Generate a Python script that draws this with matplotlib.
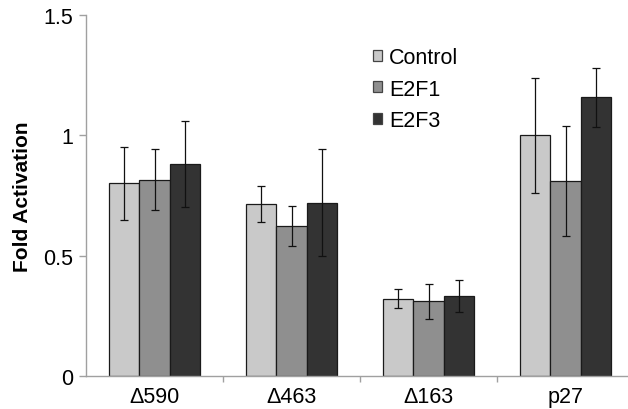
import numpy as np
import matplotlib
matplotlib.use('Agg')
import matplotlib.pyplot as plt

plt.rcParams['font.family'] = ['Liberation Sans', 'DejaVu Sans']

# data
groups = ['\u0394590', '\u0394463', '\u0394163', 'p27']
series = ['Control', 'E2F1', 'E2F3']
control = [0.80, 0.716, 0.321, 1.00]
e2f1 = [0.816, 0.622, 0.311, 0.81]
e2f3 = [0.882, 0.72, 0.331, 1.158]
control_err = [0.152, 0.075, 0.040, 0.238]
e2f1_err = [0.126, 0.083, 0.073, 0.23]
e2f3_err = [0.178, 0.223, 0.066, 0.122]
colors = ['#c9c9c9', '#8f8f8f', '#333333']

fig = plt.figure(figsize=(6.28, 4.10), dpi=100)
ax = fig.add_axes([86/628, 33/410, 542/628, 361/410])

x = np.arange(len(groups))
w = 0.22
vals = [control, e2f1, e2f3]
errs = [control_err, e2f1_err, e2f3_err]
for i in range(3):
    ax.bar(x + (i - 1) * w, vals[i], w, color=colors[i], edgecolor='#1a1a1a',
           linewidth=0.9, label=series[i],
           yerr=errs[i], error_kw=dict(ecolor='#111111', elinewidth=0.9,
                                       capsize=3, capthick=0.9))

ax.set_xlim(-0.5, -0.5 + 542/137)
ax.set_ylim(0, 1.5)
ax.set_yticks([0, 0.5, 1, 1.5])
ax.set_yticklabels(['0', '0.5', '1', '1.5'])
ax.set_xticks(x)
ax.set_xticklabels(groups)
ax.set_xticks(np.arange(0.5, len(groups) - 0.5, 1), minor=True)
ax.tick_params(axis='x', which='major', length=0, pad=7, labelsize=15.5)
ax.tick_params(axis='x', which='minor', length=4, color='#a0a0a0', width=1)
ax.tick_params(axis='y', length=5, pad=4, color='#a0a0a0', width=1, labelsize=15.5)

for s in ['top', 'right']:
    ax.spines[s].set_visible(False)
for s in ['left', 'bottom']:
    ax.spines[s].set_color('#a0a0a0')
    ax.spines[s].set_linewidth(1)

ax.set_ylabel('Fold Activation', fontsize=15, fontweight='bold', labelpad=8)

leg = ax.legend(loc='upper left', bbox_to_anchor=(362/628, 1 - 37/410),
                bbox_transform=fig.transFigure, frameon=False, fontsize=15.5,
                handlelength=0.42, handleheight=0.42, handletextpad=0.35,
                labelspacing=0.5, borderpad=0)
for h in leg.legend_handles:
    h.set_edgecolor('#444444')

fig.savefig('out.png', dpi=100)
